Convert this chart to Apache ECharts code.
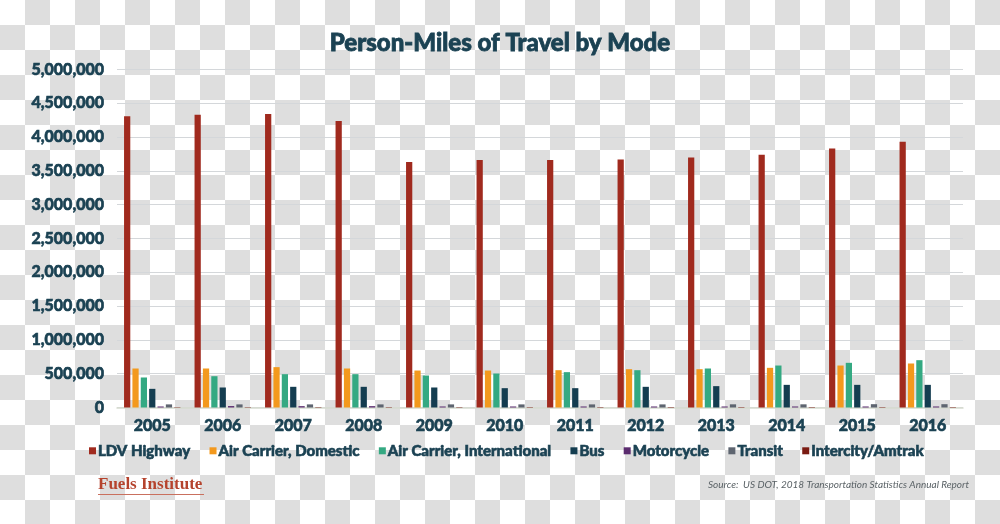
<!DOCTYPE html>
<html><head><meta charset="utf-8">
<script src="https://cdn.jsdelivr.net/npm/echarts@6/dist/echarts.min.js"></script>
<style>
html,body{margin:0;padding:0;}
body{width:1000px;height:524px;background:conic-gradient(#dedede 25%, #ffffff 0 50%, #dedede 0 75%, #ffffff 0) 0 0/50px 50px;}
#c{width:1000px;height:524px;}
</style></head>
<body><div id="c"></div>
<script>
const years = ['2005','2006','2007','2008','2009','2010','2011','2012','2013','2014','2015','2016'];
const ldvHighway = [4310000,4330000,4340000,4240000,3630000,3660000,3660000,3670000,3700000,3740000,3830000,3930000];
const airDomestic = [577000,577000,597000,577000,547000,547000,552000,567000,567000,587000,621000,651000];
const airInternational = [444000,463000,493000,493000,473000,503000,523000,552000,577000,621000,661000,700000];
const bus = [276000,296000,306000,306000,296000,286000,286000,306000,316000,335000,335000,335000];
const motorcycle = [15000,21000,20000,20000,15000,15000,15000,15000,15000,15000,15000,15000];
const transit = [46000,46000,46000,46000,46000,46000,46000,46000,47000,47000,49000,49000];
const intercity = [5500,5800,6000,6100,6000,6400,6500,6800,6800,6700,6500,6400];
const seriesNames = ['LDV Highway','Air Carrier, Domestic','Air Carrier, International','Bus','Motorcycle','Transit','Intercity/Amtrak'];
const seriesData = [ldvHighway, airDomestic, airInternational, bus, motorcycle, transit, intercity];
const colors = ['#a02a1e','#f3991d','#34a982','#143d50','#5b2c6f','#5e6570','#7a1b12'];

const txt = '#1b4253';
const font = 'Lato, "Open Sans", sans-serif';
const heavy = {fontFamily: font, fontWeight: 900, color: txt, textBorderColor: txt, textBorderWidth: 0.6};
const chart = echarts.init(document.getElementById('c'), null, {renderer:'canvas'});
chart.setOption({
  backgroundColor: 'transparent',
  animation: false,
  color: colors,
  title: {
    text: 'Person-Miles of Travel by Mode',
    left: 'center', top: 26,
    textStyle: Object.assign({}, heavy, {fontSize: 24, textBorderWidth: 0.8})
  },
  grid: {left: 117, right: 37, top: 69.5, bottom: 116.5},
  legend: {
    data: seriesNames,
    left: 84, top: 438,
    icon: 'rect', itemWidth: 7, itemHeight: 7, itemGap: 19,
    textStyle: Object.assign({}, heavy, {fontSize: 15, padding: [0,0,0,-3]})
  },
  xAxis: {
    type: 'category', data: years,
    axisLine: {lineStyle: {color: '#d6dbcf', width: 1.5}},
    axisTick: {show: false},
    axisLabel: Object.assign({}, heavy, {fontSize: 16, margin: 10})
  },
  yAxis: {
    type: 'value', min: 0, max: 5000000, interval: 500000,
    axisLine: {show: false}, axisTick: {show: false},
    splitLine: {lineStyle: {color: '#d4d7da', width: 1}},
    axisLabel: Object.assign({}, heavy, {fontSize: 16, margin: 13,
      formatter: v => v.toLocaleString('en-US')})
  },
  series: seriesNames.map((n, i) => ({
    name: n, type: 'bar', data: seriesData[i],
    barGap: '34%', barCategoryGap: '20%',
    itemStyle: {color: colors[i]}
  })),
  graphic: [
    {type: 'text', left: 98, top: 476, style: {text: 'Fuels Institute', fontFamily: '"Liberation Serif", serif', fontWeight: 'bold', fontSize: 17, fill: '#b5432d'}},
    {type: 'rect', shape: {x: 98, y: 494, width: 106, height: 1}, style: {fill: '#c9705e'}},
    {type: 'text', right: 31, top: 480, style: {text: 'Source:  US DOT, 2018 Transportation Statistics Annual Report', fontFamily: font, fontStyle: 'italic', fontSize: 10, fill: '#5a6266'}}
  ]
});
</script></body></html>
